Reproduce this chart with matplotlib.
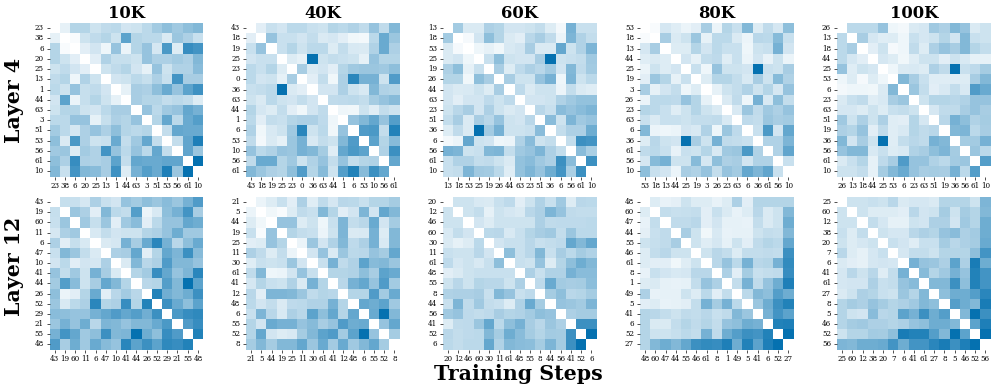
import numpy as np
import matplotlib
matplotlib.use("Agg")
import matplotlib.pyplot as plt
from matplotlib.colors import LinearSegmentedColormap
import seaborn as sns

steps = ["10K", "40K", "60K", "80K", "100K"]
layers = ["Layer 4", "Layer 12"]

# upper triangles of the similarity matrices
labels_l4_10k = [23, 38, 6, 20, 25, 13, 1, 44, 63, 3, 51, 53, 56, 61, 10]
l4_10k = [
    [.1, .3, .3, .2, .25, .27, .18, .2, .27, .37, .45, .38, .45, .5],
    [.03, .2, .25, .3, .2, .65, .3, .27, .27, .15, .4, .33, .22],
    [.12, .18, .07, .42, .08, .3, .42, .17, .72, .14, .8, .75],
    [.12, .32, .23, .23, .2, .42, .33, .33, .37, .33, .5],
    [.2, .25, .3, .18, .1, .42, .2, .32, .32, .47],
    [.18, .2, .27, .23, .33, .22, .75, .35, .35],
    [.1, .35, .33, .45, .6, .42, .65, .77],
    [.35, .3, .3, .24, .27, .24, .14],
    [.42, .27, .38, .42, .62, .55],
    [.3, .62, .27, .6, .68],
    [.24, .62, .6, .6],
    [.24, .63, .9],
    [.63, .4],
    [1.0],
]
labels_l4_40k = [43, 18, 19, 25, 23, 0, 36, 63, 44, 1, 6, 53, 10, 56, 61]
l4_40k = [
    [.12, .22, .18, .27, .27, .22, .2, .3, .27, .32, .25, .42, .25, .5],
    [.42, .22, .22, .18, .24, .15, .17, .12, .06, .05, .27, .6, .4],
    [.22, .3, .2, .27, .27, .14, .24, .16, .15, .32, .6, .33],
    [.14, .1, 1.0, .2, .24, .22, .2, .1, .42, .3, .3],
    [.35, .15, .18, .12, .3, .38, .4, .4, .38, .45],
    [.12, .24, .06, .33, .85, .55, .55, .2, .7],
    [.18, .18, .33, .2, .16, .5, .32, .3],
    [.25, .26, .27, .24, .36, .42, .48],
    [.07, .06, .2, .13, .24, .2],
    [.42, .5, .62, .42, .68],
    [.7, .72, .24, .88],
    [.65, .3, .48],
    [.32, .78],
    [.62],
]
labels_l4_60k = [13, 18, 53, 25, 19, 26, 44, 63, 23, 51, 36, 6, 56, 61, 10]
l4_60k = [
    [.37, .15, .15, .33, .3, .18, .18, .2, .24, .14, .05, .55, .22, .22],
    [.04, .18, .45, .3, .15, .12, .28, .35, .25, .08, .52, .32, .24],
    [.07, .1, .06, .16, .18, .35, .15, .15, .62, .2, .32, .52],
    [.22, .45, .2, .18, .18, .35, 1.0, .2, .22, .24, .38],
    [.35, .14, .26, .33, .28, .37, .18, .5, .25, .37],
    [.35, .2, .2, .42, .55, .07, .52, .2, .27],
    [.26, .15, .2, .2, .08, .24, .15, .13],
    [.18, .18, .2, .32, .38, .43, .43],
    [.28, .22, .47, .42, .47, .52],
    [.47, .2, .52, .38, .42],
    [.24, .33, .33, .58],
    [.24, .78, .75],
    [.47, .34],
    [.78],
]
labels_l4_80k = [53, 18, 13, 44, 25, 19, 3, 26, 23, 63, 6, 36, 61, 56, 10]
l4_80k = [
    [.03, .17, .13, .08, .12, .35, .08, .3, .22, .5, .14, .25, .17, .45],
    [.35, .15, .2, .4, .1, .27, .27, .15, .08, .28, .27, .48, .22],
    [.14, .14, .3, .18, .27, .22, .22, .07, .2, .22, .55, .18],
    [.18, .1, .24, .26, .13, .22, .08, .18, .09, .2, .08],
    [.22, .07, .42, .2, .2, .18, 1.0, .22, .2, .35],
    [.14, .3, .3, .24, .16, .35, .2, .48, .32],
    [.1, .2, .24, .32, .2, .3, .17, .42],
    [.15, .25, .07, .55, .16, .45, .24],
    [.16, .4, .25, .38, .33, .42],
    [.26, .24, .4, .35, .37],
    [.22, .72, .18, .62],
    [.32, .32, .52],
    [.32, .63],
    [.22],
]
labels_l4_100k = [26, 13, 18, 44, 25, 53, 6, 23, 63, 51, 19, 36, 56, 61, 10]
l4_100k = [
    [.27, .27, .27, .42, .07, .05, .15, .17, .38, .33, .5, .42, .15, .2],
    [.35, .17, .13, .14, .07, .22, .17, .2, .3, .18, .5, .22, .2],
    [.12, .2, .04, .07, .25, .14, .33, .42, .35, .5, .3, .24],
    [.17, .14, .06, .13, .2, .2, .12, .2, .16, .1, .1],
    [.07, .15, .16, .14, .33, .25, 1.0, .22, .26, .36],
    [.5, .35, .22, .13, .13, .13, .14, .35, .5],
    [.4, .24, .12, .16, .24, .16, .7, .6],
    [.2, .3, .3, .28, .32, .42, .42],
    [.17, .25, .25, .35, .42, .35],
    [.28, .55, .45, .32, .36],
    [.5, .52, .27, .35],
    [.36, .37, .55],
    [.4, .27],
    [.68],
]
labels_l12_10k = [43, 19, 60, 11, 6, 47, 10, 41, 44, 26, 52, 29, 21, 55, 48]
l12_10k = [
    [.23, .22, .17, .33, .22, .18, .42, .37, .45, .4, .47, .4, .55, .7],
    [.4, .33, .12, .5, .27, .24, .68, .08, .16, .45, .55, .75, .35],
    [.38, .23, .4, .12, .38, .47, .12, .27, .42, .42, .62, .58],
    [.16, .24, .18, .2, .2, .3, .33, .42, .58, .38, .38],
    [.15, .17, .55, .35, .6, .85, .55, .28, .45, .6],
    [.33, .35, .62, .12, .3, .62, .52, .78, .48],
    [.15, .5, .28, .33, .7, .5, .5, .42],
    [.3, .37, .8, .62, .42, .52, .85],
    [.28, .3, .68, .5, 1.0, .65],
    [.88, .57, .5, .58, .78],
    [.78, .6, .45, .65],
    [.72, .8, .83],
    [.7, .8],
    [.88],
]
labels_l12_40k = [21, 5, 44, 19, 25, 11, 30, 61, 41, 12, 48, 6, 55, 52, 8]
l12_40k = [
    [.08, .14, .22, .12, .33, .13, .25, .17, .28, .27, .22, .3, .3, .36],
    [.06, .03, .14, .25, .22, .5, .3, .12, .18, .52, .18, .62, .5],
    [.42, .42, .14, .2, .07, .22, .52, .24, .28, .6, .18, .36],
    [.3, .24, .22, .08, .2, .52, .15, .16, .55, .14, .5],
    [.08, .4, .18, .32, .5, .26, .33, .55, .16, .5],
    [.18, .42, .15, .4, .27, .28, .42, .36, .62],
    [.22, .55, .25, .32, .65, .48, .5, .4],
    [.3, .3, .32, .45, .35, .65, .6],
    [.28, .55, .62, .42, .7, .37],
    [.3, .3, .7, .37, .6],
    [.62, .58, .65, .38],
    [.6, 1.0, .5],
    [.42, .62],
    [.36],
]
labels_l12_60k = [20, 12, 46, 60, 30, 11, 61, 48, 55, 8, 44, 56, 41, 52, 6]
l12_60k = [
    [.2, .2, .16, .15, .22, .26, .12, .2, .32, .22, .38, .14, .28, .27],
    [.2, .24, .1, .2, .17, .15, .28, .33, .52, .42, .25, .24, .24],
    [.18, .14, .2, .2, .2, .2, .33, .25, .26, .26, .26, .27],
    [.27, .28, .16, .22, .3, .35, .38, .24, .4, .27, .27],
    [.18, .22, .22, .28, .22, .24, .26, .62, .5, .62],
    [.45, .22, .28, .5, .22, .35, .27, .36, .32],
    [.22, .2, .42, .14, .3, .45, .58, .5],
    [.33, .22, .32, .32, .55, .47, .47],
    [.26, .6, .37, .35, .36, .46],
    [.36, .45, .28, .3, .36],
    [.42, .4, .37, .52],
    [.33, .36, .36],
    [.78, .78],
    [1.0],
]
labels_l12_80k = [48, 60, 47, 44, 55, 46, 61, 8, 1, 49, 5, 41, 6, 52, 27]
l12_80k = [
    [.14, .09, .11, .2, .14, .14, .09, .14, .33, .12, .3, .3, .3, .3],
    [.24, .22, .23, .24, .12, .22, .15, .09, .14, .28, .15, .2, .5],
    [.25, .25, .28, .12, .18, .1, .1, .09, .24, .15, .2, .58],
    [.35, .2, .06, .16, .09, .1, .1, .2, .24, .23, .5],
    [.2, .13, .17, .1, .2, .12, .25, .3, .27, .62],
    [.2, .28, .24, .14, .24, .24, .25, .24, .78],
    [.28, .42, .27, .55, .28, .3, .55, .82],
    [.33, .12, .36, .22, .24, .25, .8],
    [.24, .55, .25, .42, .58, .9],
    [.27, .5, .45, .68, .58],
    [.4, .58, .78, .88],
    [.55, .75, .65],
    [.88, .9],
    [1.0],
]
labels_l12_100k = [25, 60, 12, 38, 20, 7, 6, 41, 61, 27, 8, 5, 46, 52, 56]
l12_100k = [
    [.2, .2, .22, .2, .28, .15, .17, .17, .15, .3, .3, .3, .2, .52],
    [.2, .14, .14, .14, .12, .28, .18, .2, .36, .2, .36, .3, .5],
    [.24, .17, .1, .1, .2, .18, .33, .33, .18, .38, .3, .58],
    [.2, .17, .17, .28, .33, .3, .42, .47, .33, .37, .58],
    [.22, .18, .13, .22, .22, .36, .28, .33, .36, .6],
    [.17, .24, .24, .2, .3, .3, .3, .45, .75],
    [.55, .42, .4, .33, .65, .33, .92, .58],
    [.48, .3, .38, .55, .42, .88, .75],
    [.5, .5, .78, .45, .88, .75],
    [.45, .58, .58, .68, .85],
    [.68, .58, .5, .92],
    [.5, 1.0, .78],
    [.65, .9],
    [1.0],
]

panels = [
    [(labels_l4_10k, l4_10k), (labels_l4_40k, l4_40k), (labels_l4_60k, l4_60k),
     (labels_l4_80k, l4_80k), (labels_l4_100k, l4_100k)],
    [(labels_l12_10k, l12_10k), (labels_l12_40k, l12_40k), (labels_l12_60k, l12_60k),
     (labels_l12_80k, l12_80k), (labels_l12_100k, l12_100k)],
]

W, H = 996, 392
xs = [49.5, 246, 443, 640, 837]
ys = [23, 197]
size = [153.5, 152.5]

cmap = LinearSegmentedColormap.from_list("blu", ["#ffffff", "#0571b0"])
plt.rcParams["font.family"] = "DejaVu Serif"


def to_matrix(tri):
    n = len(tri) + 1
    m = np.full((n, n), np.nan)
    for i, row in enumerate(tri):
        for k, v in enumerate(row):
            m[i, i + 1 + k] = v
            m[i + 1 + k, i] = v
    return m


fig = plt.figure(figsize=(W / 100, H / 100), dpi=100)
for r in range(2):
    for c in range(5):
        names, tri = panels[r][c]
        ax = fig.add_axes([xs[c] / W, 1 - (ys[r] + size[r]) / H, 153.5 / W, size[r] / H])
        sns.heatmap(to_matrix(tri), ax=ax, cmap=cmap, vmin=0, vmax=1, cbar=False,
                    xticklabels=names, yticklabels=names)
        ax.tick_params(axis="both", labelsize=5.1, length=2.4, width=0.6, pad=1.8, color="#333333")
        ax.tick_params(axis="x", labelrotation=0)
        ax.tick_params(axis="y", labelrotation=0)
        if r == 0:
            ax.set_title(steps[c], fontsize=11.8, fontweight="bold", pad=3.5)

fig.text(14 / W, 1 - 100 / H, layers[0], rotation=90, fontsize=14.8, fontweight="bold", ha="center", va="center")
fig.text(14 / W, 1 - 266 / H, layers[1], rotation=90, fontsize=14.8, fontweight="bold", ha="center", va="center")
fig.text(518 / W, 1 - 374 / H, "Training Steps", fontsize=14.8, fontweight="bold", ha="center", va="center")

fig.savefig("out.png", dpi=100)
